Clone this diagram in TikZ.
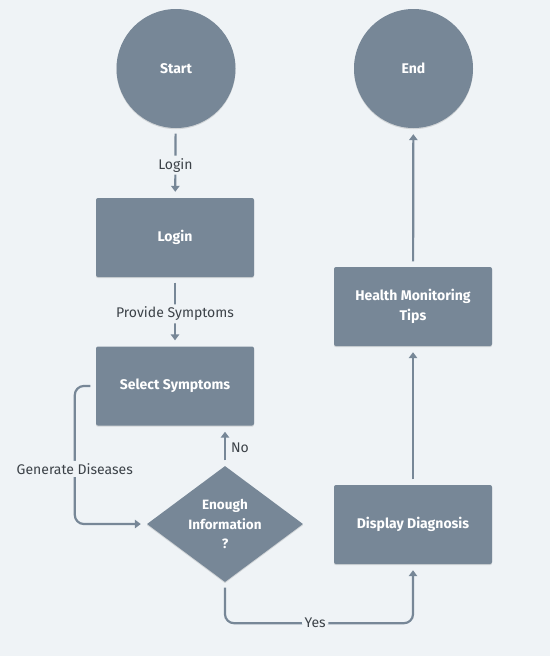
\documentclass[tikz,border=0pt]{standalone}
\usepackage{fontspec}
\setmainfont{Fira Sans}
\usetikzlibrary{shapes.geometric,arrows.meta,shadows}
\definecolor{bg}{HTML}{EFF3F6}
\definecolor{boxc}{HTML}{778797}
\definecolor{txt}{HTML}{3C4248}
\begin{document}
\begin{tikzpicture}[x=1pt,y=-1pt,
  shade/.style={general shadow={fill=black, opacity=0.12, shadow xshift=0pt, shadow yshift=-1.2pt}},
  box/.style={shade, fill=boxc, rounded corners=2pt, minimum width=158pt, minimum height=79pt,
    text=white, font=\bfseries\fontsize{14}{20}\selectfont, align=center, inner sep=0pt},
  term/.style={shade, circle, fill=boxc, minimum size=119pt, inner sep=0pt,
    text=white, font=\bfseries\fontsize{14}{17}\selectfont},
  dec/.style={shade, diamond, fill=boxc, aspect=1.34, minimum width=156pt, minimum height=116pt, inner sep=0pt,
    text=white, font=\bfseries\fontsize{13.5}{19.5}\selectfont, align=center},
  conn/.style={draw=boxc, line width=2.2pt, rounded corners=9pt,
    -{Triangle[length=6pt,width=8.5pt]}, shorten <=5.5pt, shorten >=6pt},
  lbl/.style={fill=bg, text=txt, font=\fontsize{14}{16}\selectfont, inner sep=2.5pt}
]
\fill[bg] (0,0) rectangle (550,656);
\node[term] (start) at (176,68.5) {Start};
\node[term] (end) at (413.5,68.5) {End};
\node[box] (login) at (175,237.5) {Login};
\node[box] (sel) at (175,386) {Select Symptoms};
\node[dec] (dia) at (225,524) {Enough\\Information\\?};
\node[box] (diag) at (413,524.5) {Display Diagnosis};
\node[box] (tips) at (413,306.5) {Health Monitoring\\Tips};

\draw[conn] (start) -- node[lbl, pos=0.53]{Login} (login);
\draw[conn] (login) -- node[lbl, pos=0.53]{Provide Symptoms} (sel);
\draw[conn] (dia.north) -- node[right, text=txt, font=\fontsize{14}{16}\selectfont, inner sep=5pt, pos=0.45]{No} (dia.north |- sel.south);
\draw[conn] (sel.west) -- ++(-21,0) |- node[lbl, pos=0.3]{Generate Diseases} (dia.west);
\draw[conn] (dia.south) -- ++(0,41) -| node[lbl, pos=0.24]{Yes} (diag.south);
\draw[conn] (diag) -- (tips);
\draw[conn] (tips) -- (end);
\end{tikzpicture}
\end{document}
